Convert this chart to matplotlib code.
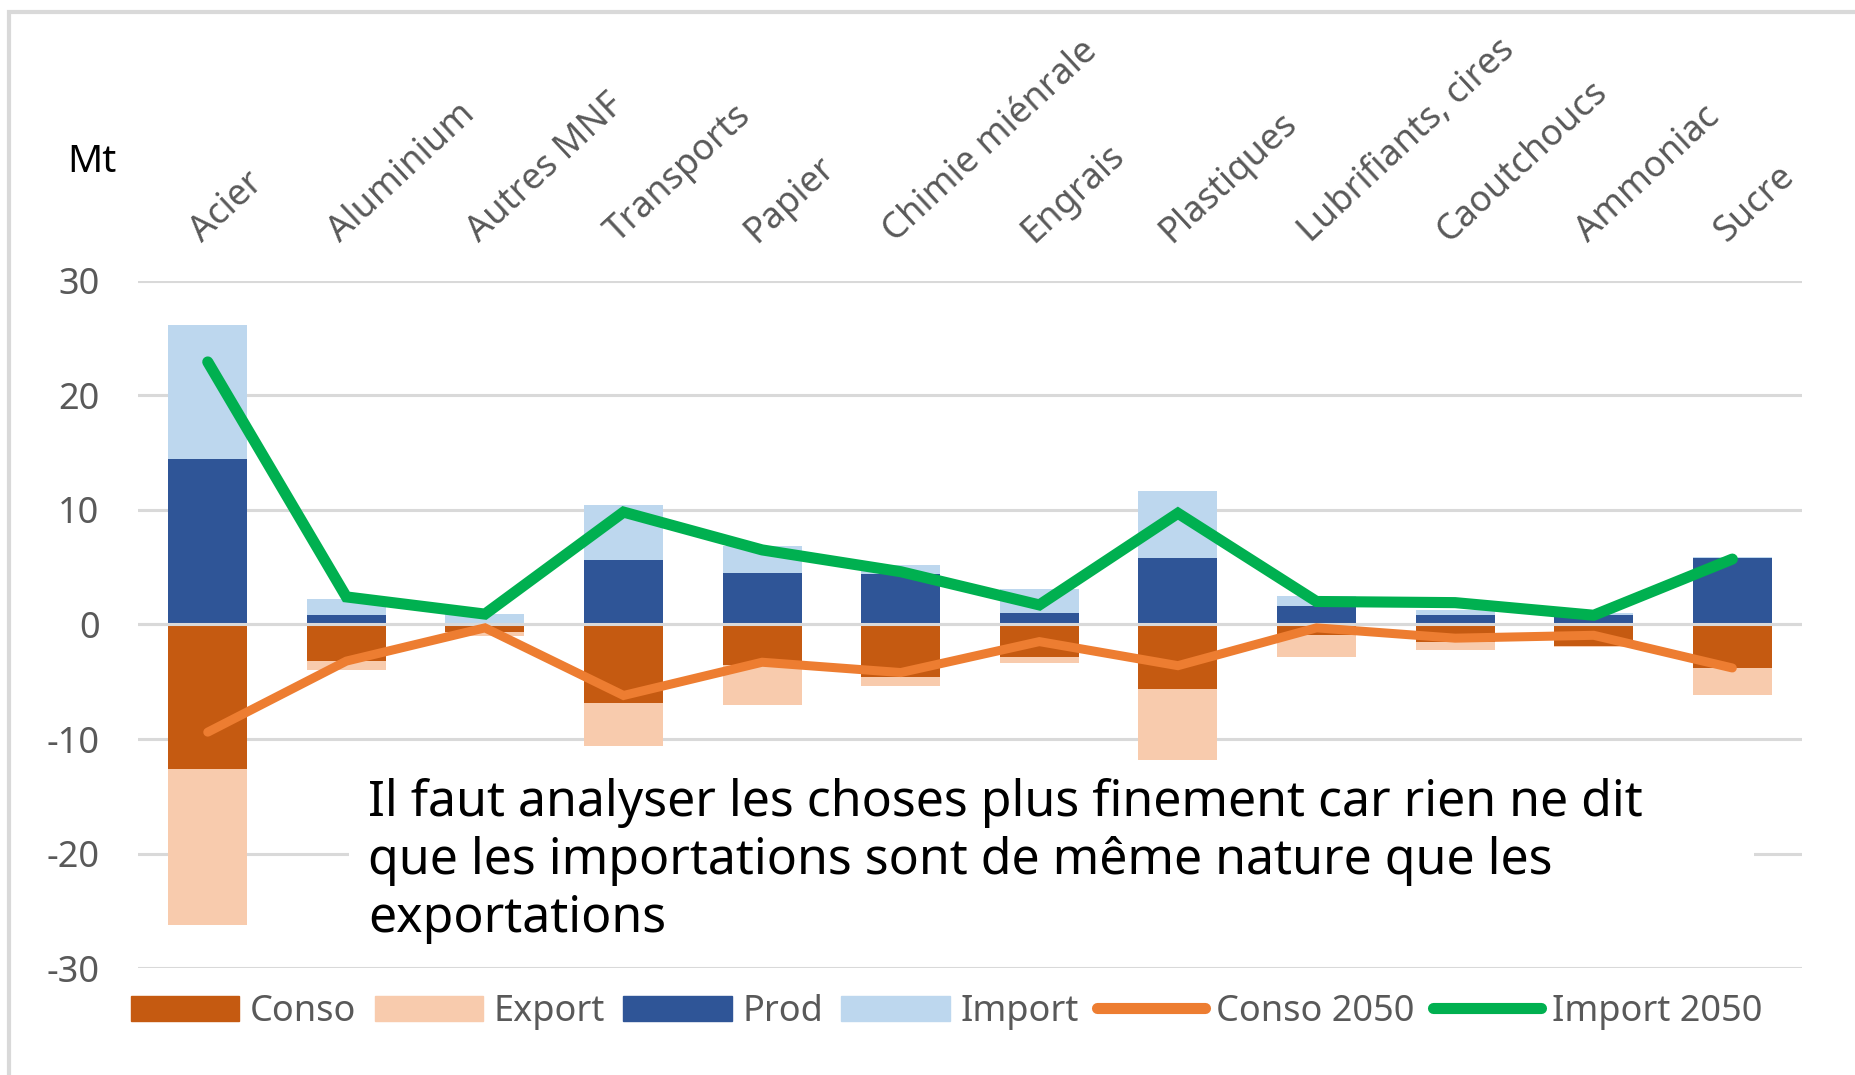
import matplotlib.pyplot as plt
import numpy as np
from matplotlib.patches import Rectangle, Patch
from matplotlib.lines import Line2D

plt.rcParams['font.family'] = ['Noto Sans', 'DejaVu Sans']
plt.rcParams['axes.unicode_minus'] = False

categories = ['Acier', 'Aluminium', 'Autres MNF', 'Transports', 'Papier',
              'Chimie miénrale', 'Engrais', 'Plastiques', 'Lubrifiants, cires',
              'Caoutchoucs', 'Ammoniac', 'Sucre']

# positive side
prod = [14.4, 0.8, 0.1, 5.6, 4.5, 4.4, 1.0, 5.8, 1.6, 0.8, 0.8, 5.8]
imports = [11.7, 1.4, 0.8, 4.8, 2.3, 0.8, 2.1, 5.8, 0.9, 0.5, 0.2, 0.1]
# negative side
conso = [-12.6, -3.2, -0.7, -6.9, -3.5, -4.6, -2.8, -5.6, -0.9, -1.5, -1.9, -3.8]
export = [-13.6, -0.8, -0.3, -3.7, -3.5, -0.8, -0.6, -6.2, -1.9, -0.7, -0.1, -2.4]
# 2050 lines
conso_2050 = [-9.4, -3.2, -0.3, -6.2, -3.3, -4.2, -1.5, -3.6, -0.3, -1.2, -0.95, -3.8]
import_2050 = [22.9, 2.4, 0.9, 9.8, 6.5, 4.6, 1.7, 9.7, 2.0, 1.9, 0.8, 5.7]

annotation = ("Il faut analyser les choses plus finement car rien ne dit\n"
              "que les importations sont de même nature que les\n"
              "exportations")

c_conso = '#C55A11'
c_export = '#F8CBAD'
c_prod = '#2F5597'
c_import = '#BDD7EE'
c_conso50 = '#ED7D31'
c_import50 = '#00B050'
grid_c = '#D9D9D9'
txt_c = '#595959'

fig = plt.figure(figsize=(18.56, 10.75), dpi=100)
ax = fig.add_axes([0.0746, 0.0993, 0.8961, 0.6397])

x = np.arange(len(categories))
w = 0.57

ax.bar(x, prod, w, color=c_prod, zorder=2)
ax.bar(x, imports, w, bottom=prod, color=c_import, zorder=2)
ax.bar(x, conso, w, color=c_conso, zorder=2)
ax.bar(x, export, w, bottom=conso, color=c_export, zorder=2)
ax.axhline(0, color=grid_c, lw=2.2, zorder=2.5)

ax.plot(x, conso_2050, color=c_conso50, lw=6.5, zorder=3, solid_capstyle='round',
        solid_joinstyle='miter')
ax.plot(x, import_2050, color=c_import50, lw=8, zorder=3, solid_capstyle='round',
        solid_joinstyle='miter')

ax.set_xlim(-0.5, len(categories) - 0.5)
ax.set_ylim(-30, 30)
ax.set_yticks(range(-30, 31, 10))
ax.yaxis.grid(True, color=grid_c, lw=2.2, zorder=0)
ax.set_axisbelow(True)
for s in ax.spines.values():
    s.set_visible(False)
ax.tick_params(axis='y', length=0, pad=28, labelsize=26, labelcolor=txt_c)

ax.xaxis.tick_top()
ax.set_xticks(x)
ax.set_xticklabels(categories, rotation=43, ha='left', va='bottom',
                   rotation_mode='anchor', fontsize=26, color=txt_c)
ax.tick_params(axis='x', length=0, pad=22)
for lbl in ax.get_xticklabels():
    lbl.set_x(lbl.get_position()[0])

# white box behind the comment
ax.add_patch(Rectangle((0.1266, 0.027), 0.845, 0.254, transform=ax.transAxes,
                       facecolor='white', edgecolor='none', zorder=1))
ax.text(0.138, 0.276, annotation, transform=ax.transAxes, ha='left', va='top',
        fontsize=36, color='black', linespacing=1.2, zorder=4)

fig.text(0.0496, 0.849, 'Mt', fontsize=28, color='black', ha='center', va='center')

handles = [Patch(color=c_conso), Patch(color=c_export), Patch(color=c_prod),
           Patch(color=c_import),
           Line2D([], [], color=c_conso50, lw=8, solid_capstyle='round'),
           Line2D([], [], color=c_import50, lw=8, solid_capstyle='round')]
labels = ['Conso', 'Export', 'Prod', 'Import', 'Conso 2050', 'Import 2050']
leg = fig.legend(handles, labels, loc='center', bbox_to_anchor=(0.51, 0.0586),
                 ncol=6, frameon=False, fontsize=26, handlelength=3.0,
                 handleheight=0.7, handletextpad=0.3, columnspacing=0.5)
for t in leg.get_texts():
    t.set_color(txt_c)

# outer border of the chart area
fig.add_artist(Rectangle((0.0051, -0.1), 1.2, 1.0888, transform=fig.transFigure,
                         facecolor='none', edgecolor=grid_c, lw=3))

fig.savefig('out.png', dpi=100)
